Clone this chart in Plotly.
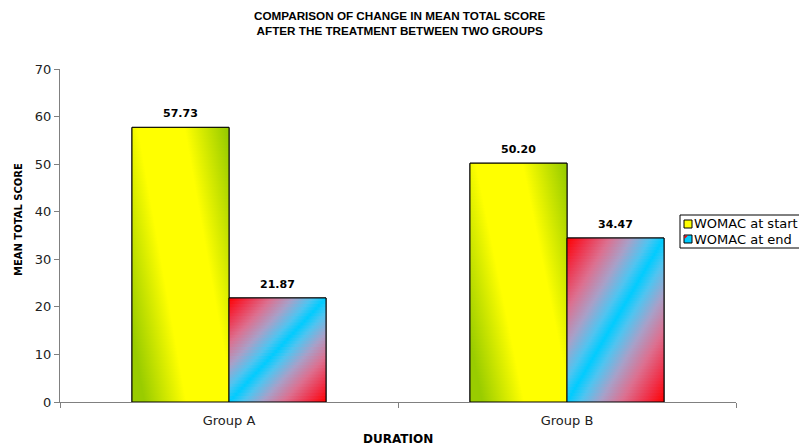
import plotly.graph_objects as go

# Chart data
groups = ["Group A", "Group B"]
series_names = ["WOMAC at start", "WOMAC at end"]
womac_start = [57.73, 50.20]
womac_end = [21.87, 34.47]
y_ticks = [0, 10, 20, 30, 40, 50, 60, 70]

FONT = "DejaVu Sans, Liberation Sans, sans-serif"
TITLE_FONT = "Liberation Sans, Arial, sans-serif"
GREEN = "#99cc00"
YELLOW = "#ffff00"
RED = "#ff0000"
CYAN = "#00ccff"

BAR_W = 0.287  # width of one bar in category units

# gradient definitions: colorscale over offset from a moving centre line
# (centre given as fraction of bar width at bottom and at top)
start_style = dict(
    colorscale=[[0, GREEN], [0.08, GREEN], [0.35, YELLOW], [0.65, YELLOW], [0.92, GREEN], [1, GREEN]],
    c_bottom=0.80, c_top=0.30, half=0.8, base=YELLOW,
)
end_style = dict(
    colorscale=[[0, RED], [0.1, "#f03048"], [0.22, "#dc7090"], [0.33, "#a8a0c8"],
                [0.43, "#50c4f0"], [0.5, CYAN], [0.57, "#50c4f0"], [0.67, "#a8a0c8"],
                [0.78, "#dc7090"], [0.9, "#f03048"], [1, RED]],
    c_bottom=0.0, c_top=1.0, half=1.0, base=CYAN,
)

fig = go.Figure()

series = [(series_names[0], womac_start, -BAR_W, start_style),
          (series_names[1], womac_end, 0.0, end_style)]

# base bars
for name, vals, off, st in series:
    fig.add_trace(go.Bar(
        x=list(range(len(groups))), y=vals, name=name,
        width=BAR_W, offset=off,
        marker=dict(color=st["base"], line=dict(color="black", width=1)),
        showlegend=False, hoverinfo="skip",
    ))


def gradient_bar(xc_cat, off, value, st):
    """Overlay a bar with thin horizontal bands whose gradient shifts with height."""
    x0 = xc_cat + off
    x1 = x0 + BAR_W
    n = max(20, int(value * 1.6))
    step = value / n
    for k in range(n):
        ya = k * step
        yb = min(value, (k + 1.6) * step)
        yf = (k + 0.5) / n
        c = st["c_bottom"] + (st["c_top"] - st["c_bottom"]) * yf
        xc = x0 + BAR_W * c
        fig.add_trace(go.Scatter(
            x=[x0, x1, x1, x0, x0], y=[ya, ya, yb, yb, ya],
            mode="lines", line=dict(width=0), fill="toself",
            fillgradient=dict(type="horizontal", colorscale=st["colorscale"],
                              start=xc - st["half"] * BAR_W,
                              stop=xc + st["half"] * BAR_W),
            showlegend=False, hoverinfo="skip",
        ))
    # outline
    fig.add_trace(go.Scatter(
        x=[x0, x0, x1, x1, x0], y=[0, value, value, 0, 0],
        mode="lines", line=dict(color="black", width=1),
        showlegend=False, hoverinfo="skip",
    ))


for name, vals, off, st in series:
    for i, v in enumerate(vals):
        gradient_bar(i, off, v, st)

# value labels
annotations = []
for name, vals, off, st in series:
    for i, v in enumerate(vals):
        annotations.append(dict(
            x=i + off + BAR_W / 2, y=v, xref="x", yref="y",
            text=f"{v:.2f}", showarrow=False, yanchor="bottom", yshift=5,
            font=dict(family=FONT, size=11, color="black", weight="bold"),
        ))

W, H = 799, 446
ML, MR, MT, MB = 60, 63, 69, 44
PW, PH = W - ML - MR, H - MT - MB


def px_x(px):
    return (px - ML) / PW


def px_y(py):
    return (H - MB - py) / PH


# chart title
annotations.append(dict(
    x=px_x(399.5), y=px_y(23.5), xref="paper", yref="paper",
    text="COMPARISON OF CHANGE IN MEAN TOTAL SCORE<br>AFTER THE TREATMENT BETWEEN TWO GROUPS",
    showarrow=False, xanchor="center", yanchor="middle",
    font=dict(family=TITLE_FONT, size=11.7, color="black", weight="bold"),
))

# axis titles
annotations.append(dict(
    x=px_x(398), y=px_y(439), xref="paper", yref="paper", text="DURATION",
    showarrow=False, xanchor="center", yanchor="middle",
    font=dict(family=FONT, size=12, color="black", weight="bold"),
))
annotations.append(dict(
    x=px_x(18), y=px_y(220), xref="paper", yref="paper", text="MEAN TOTAL SCORE",
    showarrow=False, textangle=-90, xanchor="center", yanchor="middle",
    font=dict(family=FONT, size=10, color="black", weight="bold"),
))

# legend (box, swatches, labels)
L_LEFT, L_TOP = 680, 215
shapes = [dict(type="rect", xref="paper", yref="paper",
               x0=px_x(L_LEFT), x1=px_x(830), y0=px_y(L_TOP), y1=px_y(248),
               line=dict(color="black", width=1), fillcolor="white", layer="above")]
rows = [224, 239]
swatch = [YELLOW, CYAN]
for r, col, nm in zip(rows, swatch, series_names):
    shapes.append(dict(type="rect", xref="paper", yref="paper",
                       x0=px_x(684), x1=px_x(692), y0=px_y(r - 4), y1=px_y(r + 4),
                       line=dict(color="black", width=1), fillcolor=col, layer="above"))
    annotations.append(dict(
        x=px_x(693), y=px_y(r), xref="paper", yref="paper", text=nm,
        showarrow=False, xanchor="left", yanchor="middle", borderpad=0,
        font=dict(family=FONT, size=13, color="black"),
    ))
# red corner of the second swatch
shapes.append(dict(type="path", xref="paper", yref="paper",
                   path=f"M {px_x(684.5)},{px_y(rows[1]-3.5)} L {px_x(688)},{px_y(rows[1]-3.5)} L {px_x(684.5)},{px_y(rows[1])} Z",
                   line=dict(width=0), fillcolor=RED, layer="above"))

fig.update_layout(
    width=W, height=H,
    margin=dict(l=ML, r=MR, t=MT, b=MB),
    paper_bgcolor="white", plot_bgcolor="white",
    barmode="overlay",
    xaxis=dict(range=[-0.5, 1.5], tickvals=list(range(len(groups))), ticktext=groups,
               ticks="", showgrid=False, zeroline=False,
               showline=True, linecolor="#808080", linewidth=1,
               tickfont=dict(family=FONT, size=13, color="#222"),
               ticklabelstandoff=6,
               minor=dict(tickmode="array", tickvals=[-0.5, 0.5, 1.5], ticks="outside",
                          ticklen=5, tickcolor="#808080", showgrid=False),
               fixedrange=True),
    yaxis=dict(range=[0, 70], tickvals=y_ticks, ticks="outside", ticklen=5,
               tickcolor="#808080", showgrid=False, zeroline=False,
               showline=True, linecolor="#808080", linewidth=1,
               tickfont=dict(family=FONT, size=13, color="#222"),
               fixedrange=True),
    annotations=annotations,
    shapes=shapes,
    showlegend=False,
)

fig.write_html("out.html")
